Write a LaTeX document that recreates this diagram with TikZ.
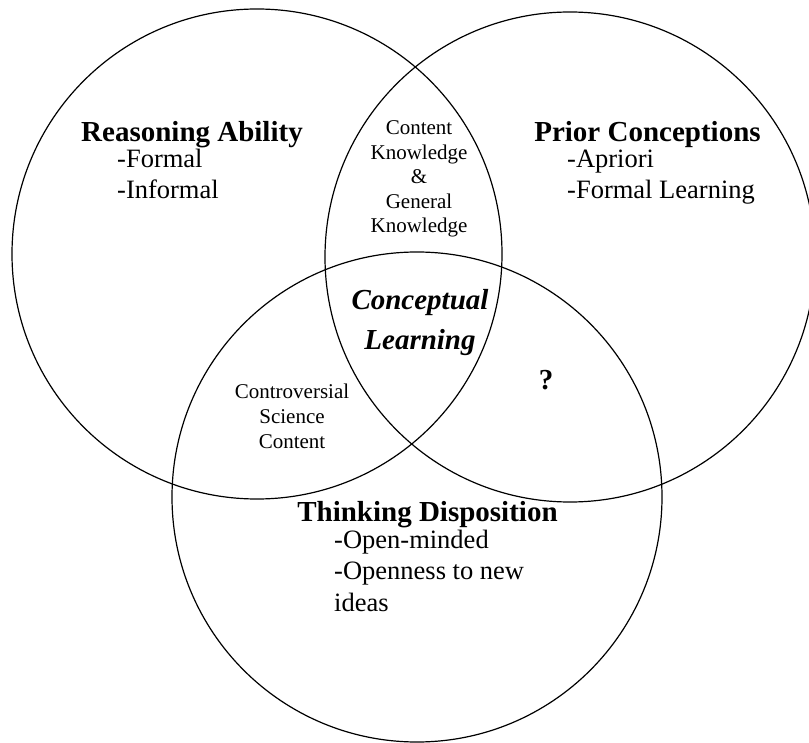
\documentclass[tikz,border=0pt]{standalone}
\usepackage{fontspec}
\setmainfont{Liberation Serif}

\tikzstyle{set}=[draw,black,circle,minimum size=490pt,inner sep=0pt,line width=1.2pt]
\tikzstyle{head}=[font=\fontsize{29}{32}\selectfont\bfseries,anchor=base,inner sep=0pt]
\tikzstyle{item}=[font=\fontsize{26.5}{31}\selectfont,anchor=base west,inner sep=0pt]
\tikzstyle{small}=[font=\fontsize{21}{24}\selectfont,anchor=base,inner sep=0pt]
\tikzstyle{core}=[font=\fontsize{29}{32}\selectfont\bfseries\itshape,anchor=base,inner sep=0pt]

\begin{document}
\begin{tikzpicture}[x=1pt,y=-1pt]
    \useasboundingbox (0,0) rectangle (809,743);
    % the three sets
    \node (reason)[set] at (257,254) {};
    \node (prior)[set]  at (570,257) {};
    \node (think)[set]  at (417,497) {};
    % reasoning ability
    \node (reasonhead)[head] at (192,142) {Reasoning Ability};
    \node (reason1)[item] at (117,168) {-Formal};
    \node (reason2)[item] at (117,199) {-Informal};
    % prior conceptions
    \node (priorhead)[head] at (647.5,142) {Prior Conceptions};
    \node (prior1)[item] at (567,168) {-Apriori};
    \node (prior2)[item] at (567,199) {-Formal Learning};
    % thinking disposition
    \node (thinkhead)[head] at (427.5,521) {Thinking Disposition};
    \node (think1)[item] at (334,548) {-Open-minded};
    \node (think2)[item] at (334,579) {-Openness to new};
    \node (think3)[item] at (334,611) {ideas};
    % overlaps
    \node (know1)[small] at (419,135) {Content};
    \node (know2)[small] at (419,160) {Knowledge};
    \node (know3)[small] at (419,184) {\&};
    \node (know4)[small] at (419,209) {General};
    \node (know5)[small] at (419,233) {Knowledge};
    \node (contro1)[small] at (292,399) {Controversial};
    \node (contro2)[small] at (292,423) {Science};
    \node (contro3)[small] at (292,448) {Content};
    \node (unknown)[head] at (546,389) {?};
    \node (concept1)[core] at (420,310) {Conceptual};
    \node (concept2)[core] at (420,350) {Learning};
\end{tikzpicture}
\end{document}
